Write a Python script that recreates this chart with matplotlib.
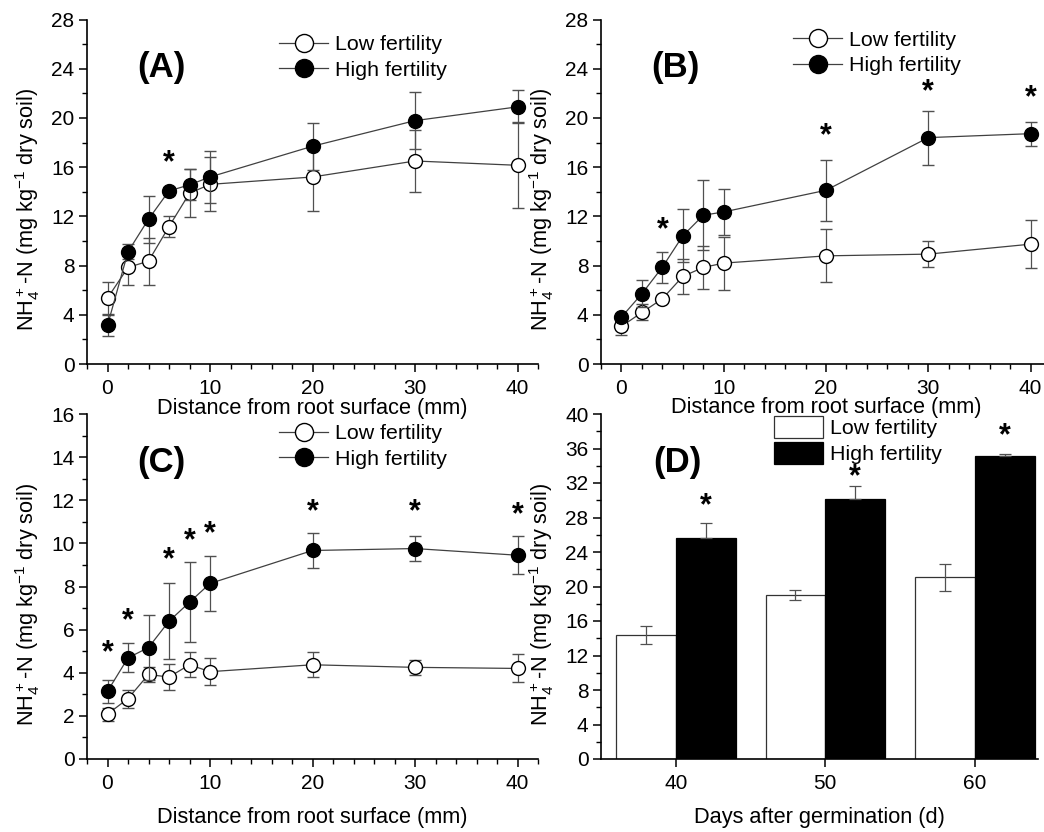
import matplotlib
matplotlib.use("Agg")
import matplotlib.pyplot as plt
from matplotlib.ticker import MultipleLocator
from matplotlib.patches import Patch
from matplotlib.lines import Line2D

plt.rcParams['font.family'] = ['Liberation Sans', 'DejaVu Sans']
plt.rcParams['mathtext.default'] = 'regular'

# ---------------- data ----------------
dist = [0, 2, 4, 6, 8, 10, 20, 30, 40]

a_low = [5.36, 7.85, 8.36, 11.17, 13.88, 14.6, 15.2, 16.5, 16.15]
a_low_err = [1.3, 1.45, 1.9, 0.85, 1.95, 2.2, 2.75, 2.5, 3.5]
a_high = [3.14, 9.12, 11.77, 14.07, 14.56, 15.2, 17.7, 19.78, 20.9]
a_high_err = [0.85, 0.6, 1.9, 0.3, 1.25, 2.1, 1.9, 2.3, 1.35]
a_star_x = [6]
a_star_y = [16.3]

b_low = [3.06, 4.19, 5.3, 7.12, 7.85, 8.2, 8.79, 8.93, 9.74]
b_low_err = [0.7, 0.65, 0.2, 1.42, 1.75, 2.15, 2.15, 1.08, 1.95]
b_high = [3.81, 5.71, 7.87, 10.42, 12.09, 12.36, 14.12, 18.4, 18.72]
b_high_err = [0.2, 1.08, 1.25, 2.15, 2.85, 1.9, 2.5, 2.2, 0.97]
b_star_x = [4, 20, 30, 40]
b_star_y = [10.9, 18.5, 22.1, 21.6]

c_low = [2.08, 2.8, 3.92, 3.8, 4.37, 4.05, 4.37, 4.25, 4.2]
c_low_err = [0.3, 0.42, 0.33, 0.6, 0.57, 0.63, 0.57, 0.35, 0.65]
c_high = [3.14, 4.69, 5.17, 6.39, 7.27, 8.14, 9.67, 9.76, 9.45]
c_high_err = [0.52, 0.67, 1.5, 1.77, 1.85, 1.27, 0.8, 0.57, 0.87]
c_star_x = [0, 2, 6, 8, 10, 20, 30, 40]
c_star_y = [4.9, 6.38, 9.24, 10.08, 10.42, 11.43, 11.43, 11.3]

days = [40, 50, 60]
d_low = [14.4, 19.0, 21.05]
d_low_err = [1.05, 0.6, 1.6]
d_high = [25.65, 30.15, 35.15]
d_high_err = [1.75, 1.45, 0.2]
d_star_y = [29.3, 32.7, 37.4]

ylabel = 'NH$_4^+$-N (mg kg$^{-1}$ dry soil)'
xlabel_dist = 'Distance from root surface (mm)'
xlabel_days = 'Days after germination (d)'
legend_labels = ['Low fertility', 'High fertility']

# ---------------- figure ----------------
W, H = 1044, 832
fig = plt.figure(figsize=(W / 100, H / 100), dpi=100)


def px_axes(left, right, top, bottom):
    ax = fig.add_axes([left / W, 1 - bottom / H, (right - left) / W, (bottom - top) / H])
    ax.patch.set_visible(False)
    return ax


TICK_FS = 15
LAB_FS = 15.7
LEG_FS = 15.4
LINE_C = '#404040'
ERR_C = '#505050'
YLAB_Y = 0.448


def style(ax):
    for s in ['top', 'right']:
        ax.spines[s].set_visible(False)
    for s in ['left', 'bottom']:
        ax.spines[s].set_linewidth(1.2)
        ax.spines[s].set_color('black')
    ax.tick_params(which='major', direction='out', length=6, width=1.1, labelsize=TICK_FS, pad=3)
    ax.tick_params(axis='x', which='major', pad=5)
    ax.tick_params(which='minor', direction='out', length=3.5, width=1.0)


def line_panel(ax, low, low_err, high, high_err, ymax, ymaj, ymin, star_x, star_y, tag):
    ax.errorbar(dist, low, yerr=low_err, color=LINE_C, lw=0.9, marker='o', ms=10,
                mfc='white', mec='black', mew=1.0, ecolor=ERR_C, elinewidth=0.9,
                capsize=4, capthick=0.9, zorder=3)
    ax.errorbar(dist, high, yerr=high_err, color=LINE_C, lw=0.9, marker='o', ms=10,
                mfc='black', mec='black', mew=1.0, ecolor=ERR_C, elinewidth=0.9,
                capsize=4, capthick=0.9, zorder=4)
    for x, y in zip(star_x, star_y):
        ax.text(x, y, '*', ha='center', va='center', fontsize=22, fontweight='bold')
    ax.set_xlim(-2, 42)
    ax.set_ylim(0, ymax)
    ax.xaxis.set_major_locator(MultipleLocator(10))
    ax.xaxis.set_minor_locator(MultipleLocator(2))
    ax.yaxis.set_major_locator(MultipleLocator(ymaj))
    ax.yaxis.set_minor_locator(MultipleLocator(ymin))
    style(ax)
    ax.set_ylabel(ylabel, fontsize=LAB_FS)
    ax.yaxis.set_label_coords(-0.1, YLAB_Y)
    ax.text(0.165, 0.86, tag, transform=ax.transAxes, fontsize=25, fontweight='bold',
            ha='center', va='center')


def add_line_legend(x_px, y_px):
    handles = [Line2D([], [], color=LINE_C, lw=0.9, marker='o', ms=13, mfc='white', mec='black'),
               Line2D([], [], color=LINE_C, lw=0.9, marker='o', ms=13, mfc='black', mec='black')]
    fig.legend(handles, legend_labels, loc='center left', bbox_to_anchor=(x_px / W, 1 - y_px / H),
               frameon=False, fontsize=LEG_FS, borderpad=0, borderaxespad=0,
               handlelength=2.3, handletextpad=0.3, labelspacing=0.3)


# Panel A
axA = px_axes(87, 538, 19.5, 364)
line_panel(axA, a_low, a_low_err, a_high, a_high_err, 28, 4, 2, a_star_x, a_star_y, '(A)')
axA.set_xlabel(xlabel_dist, fontsize=LAB_FS)
axA.xaxis.set_label_coords(0.5, -0.1)
add_line_legend(279, 57.5)

# Panel B
axB = px_axes(601, 1051, 19.5, 364)
line_panel(axB, b_low, b_low_err, b_high, b_high_err, 28, 4, 2, b_star_x, b_star_y, '(B)')
axB.set_xlabel(xlabel_dist, fontsize=LAB_FS)
axB.xaxis.set_label_coords(0.5, -0.097)
add_line_legend(793, 53)

# Panel C
axC = px_axes(87, 538, 414, 759)
line_panel(axC, c_low, c_low_err, c_high, c_high_err, 16, 2, 1, c_star_x, c_star_y, '(C)')
axC.set_xlabel(xlabel_dist, fontsize=LAB_FS)
axC.xaxis.set_label_coords(0.5, -0.14)
add_line_legend(279, 446.5)

# Panel D
axD = px_axes(601, 1037.7, 414, 759)
bw = 4
low_x = [d - bw / 2 for d in days]
high_x = [d + bw / 2 for d in days]
axD.bar(low_x, d_low, width=bw, color='white', edgecolor='#333333', linewidth=0.9, zorder=2)
axD.bar(high_x, d_high, width=bw, color='black', edgecolor='black', linewidth=0.9, zorder=2)
axD.errorbar(low_x, d_low, yerr=d_low_err, fmt='none', ecolor=ERR_C, elinewidth=0.9,
             capsize=4, capthick=0.9, zorder=3)
axD.errorbar(high_x, d_high, yerr=[[0] * len(d_high), d_high_err], fmt='none', ecolor=ERR_C,
             elinewidth=0.9, capsize=4, capthick=0.9, zorder=3)
for x, y in zip(high_x, d_star_y):
    axD.text(x, y, '*', ha='center', va='center', fontsize=22, fontweight='bold')
axD.set_xlim(35, 64.2)
axD.set_ylim(0, 40)
axD.set_xticks(days)
axD.yaxis.set_major_locator(MultipleLocator(4))
axD.yaxis.set_minor_locator(MultipleLocator(2))
style(axD)
axD.set_ylabel(ylabel, fontsize=LAB_FS)
axD.yaxis.set_label_coords(-0.1 * 451 / 436.7, YLAB_Y)
axD.set_xlabel(xlabel_days, fontsize=LAB_FS)
axD.xaxis.set_label_coords(0.5, -0.14)
axD.text(0.175, 0.86, '(D)', transform=axD.transAxes, fontsize=25, fontweight='bold',
         ha='center', va='center')
handlesD = [Patch(facecolor='white', edgecolor='#333333', lw=0.9),
            Patch(facecolor='black', edgecolor='black', lw=0.9)]
fig.legend(handlesD, legend_labels, loc='center left', bbox_to_anchor=(774 / W, 1 - 440 / H),
           frameon=False, fontsize=LEG_FS, borderpad=0, borderaxespad=0,
           handlelength=2.3, handleheight=1.2, handletextpad=0.3, labelspacing=0.15)

fig.savefig('out.png', dpi=100)
